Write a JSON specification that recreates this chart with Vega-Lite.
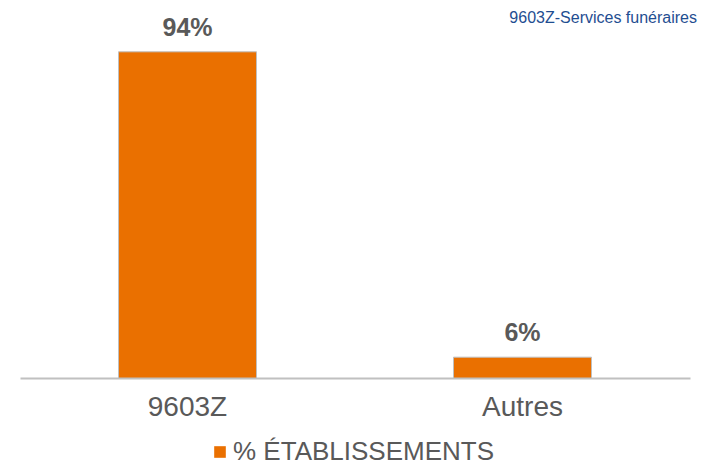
{
  "$schema": "https://vega.github.io/schema/vega-lite/v6.json",
  "autosize": {"type": "none"},
  "width": 670,
  "height": 347,
  "padding": {"left": 20, "top": 31, "right": 12, "bottom": 88},
  "background": "white",
  "config": {
    "font": "Liberation Sans",
    "view": {"stroke": null}
  },
  "title": {
    "text": "9603Z-Services funéraires",
    "anchor": "end",
    "orient": "top",
    "frame": "group",
    "fontSize": 16,
    "fontWeight": "normal",
    "color": "#1F4E91",
    "font": "Liberation Sans",
    "baseline": "alphabetic",
    "offset": -23,
    "dx": 7
  },
  "data": {
    "values": [
      {"categorie": "9603Z", "valeur": 94, "label": "94%", "serie": "% ÉTABLISSEMENTS"},
      {"categorie": "Autres", "valeur": 6, "label": "6%", "serie": "% ÉTABLISSEMENTS"}
    ]
  },
  "encoding": {
    "x": {
      "field": "categorie",
      "type": "nominal",
      "sort": null,
      "scale": {"paddingInner": 0, "paddingOuter": 0},
      "axis": {
        "title": null,
        "labelAngle": 0,
        "labelFontSize": 28,
        "labelColor": "#595959",
        "labelPadding": 15,
        "ticks": false,
        "domainColor": "#C0C0C0",
        "domainWidth": 2,
        "grid": false
      }
    },
    "y": {
      "field": "valeur",
      "type": "quantitative",
      "scale": {"domain": [0, 100]},
      "axis": null
    }
  },
  "layer": [
    {
      "mark": {"type": "bar", "width": 138, "stroke": "#BFBFBF", "strokeWidth": 1},
      "encoding": {
        "color": {
          "field": "serie",
          "type": "nominal",
          "scale": {"range": ["#EA7000"]},
          "legend": {
            "title": null,
            "orient": "none",
            "legendX": 187,
            "legendY": 408,
            "symbolType": "square",
            "symbolSize": 135,
            "symbolStrokeWidth": 0,
            "labelFontSize": 26,
            "labelLimit": 400,
            "labelColor": "#595959",
            "labelFont": "Liberation Sans",
            "labelOffset": 0
          }
        }
      }
    },
    {
      "mark": {"type": "text", "baseline": "alphabetic", "dy": -16, "fontSize": 25, "fontWeight": "bold", "color": "#595959"},
      "encoding": {"text": {"field": "label"}}
    }
  ]
}
